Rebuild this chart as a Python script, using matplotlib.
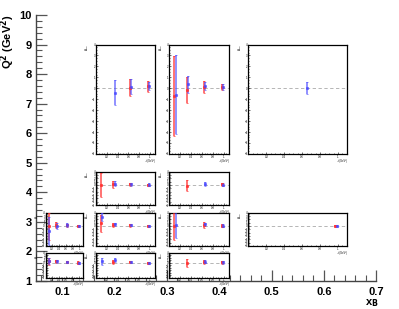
import numpy as np
import matplotlib
matplotlib.use("Agg")
import matplotlib.pyplot as plt
from matplotlib.ticker import MultipleLocator

plt.rcParams['font.family'] = ['Liberation Sans', 'DejaVu Sans']

# main frame values
x_range = (0.05, 0.7)
q2_range = (1, 10)
x_ticks = [0.1, 0.2, 0.3, 0.4, 0.5, 0.6, 0.7]
q2_ticks = [1, 2, 3, 4, 5, 6, 7, 8, 9, 10]

# -t bins used inside every small pad
t_bins = [0.10, 0.33, 0.64, 0.98]
nan = np.nan

# pad boxes in (xB, Q2) of the main frame
col_x = {'x1': (0.0685, 0.139), 'x2': (0.165, 0.278), 'x3': (0.305, 0.419), 'x6': (0.456, 0.644)}
row_q = {'q4': (5.30, 9.00), 'q3': (3.57, 4.70), 'q2': (2.19, 3.31), 'q1': (1.11, 1.96)}

# red / blue asymmetry values and errors per pad (col, row)
red_val = {
    ('x2', 'q4'): [nan, nan, 0.06, 0.2],
    ('x3', 'q4'): [-0.67, -0.15, 0.1, 0.1],
    ('x6', 'q4'): [nan, nan, nan, nan],
    ('x2', 'q3'): [0.0, 0.2, 0.2, 0.05],
    ('x3', 'q3'): [nan, -0.2, nan, 0.15],
    ('x1', 'q2'): [-0.1, 0.3, 0.2, 0.1],
    ('x2', 'q2'): [0.8, 0.2, 0.15, 0.0],
    ('x3', 'q2'): [0.0, nan, 0.3, 0.1],
    ('x6', 'q2'): [nan, nan, nan, 0.0],
    ('x1', 'q1'): [0.5, 0.6, 0.3, 0.0],
    ('x2', 'q1'): [nan, 0.3, 0.1, 0.0],
    ('x3', 'q1'): [nan, -0.2, 0.3, 0.1],
}
red_err = {
    ('x2', 'q4'): [nan, nan, 0.8, 0.5],
    ('x3', 'q4'): [3.66, 1.17, 0.55, 0.3],
    ('x6', 'q4'): [nan, nan, nan, nan],
    ('x2', 'q3'): [3.7, 1.0, 0.5, 0.35],
    ('x3', 'q3'): [nan, 1.65, nan, 0.45],
    ('x1', 'q2'): [4.1, 1.0, 0.5, 0.3],
    ('x2', 'q2'): [2.6, 0.6, 0.35, 0.3],
    ('x3', 'q2'): [4.1, nan, 0.9, 0.4],
    ('x6', 'q2'): [nan, nan, nan, 0.3],
    ('x1', 'q1'): [1.5, 0.6, 0.5, 0.6],
    ('x2', 'q1'): [nan, 0.7, 0.4, 0.35],
    ('x3', 'q1'): [nan, 1.5, 0.7, 0.6],
}
blue_val = {
    ('x2', 'q4'): [nan, -0.4, 0.15, 0.2],
    ('x3', 'q4'): [-0.6, 0.37, 0.2, 0.1],
    ('x6', 'q4'): [nan, nan, 0.03, nan],
    ('x2', 'q3'): [nan, 0.4, 0.15, 0.1],
    ('x3', 'q3'): [nan, nan, 0.2, 0.1],
    ('x1', 'q2'): [-1.45, 0.0, 0.4, 0.1],
    ('x2', 'q2'): [2.7, 0.5, 0.2, 0.0],
    ('x3', 'q2'): [0.2, nan, 0.5, 0.1],
    ('x6', 'q2'): [nan, nan, nan, 0.0],
    ('x1', 'q1'): [0.5, 0.5, 0.3, 0.0],
    ('x2', 'q1'): [0.55, 1.0, 0.1, 0.0],
    ('x3', 'q1'): [nan, nan, 0.3, 0.1],
}
blue_err = {
    ('x2', 'q4'): [nan, 1.15, 0.67, 0.4],
    ('x3', 'q4'): [3.6, 0.76, 0.37, 0.27],
    ('x6', 'q4'): [nan, nan, 0.53, nan],
    ('x2', 'q3'): [nan, 0.8, 0.45, 0.4],
    ('x3', 'q3'): [nan, nan, 0.6, 0.4],
    ('x1', 'q2'): [4.25, 0.8, 0.6, 0.3],
    ('x2', 'q2'): [1.2, 0.5, 0.3, 0.3],
    ('x3', 'q2'): [3.9, nan, 0.5, 0.4],
    ('x6', 'q2'): [nan, nan, nan, 0.3],
    ('x1', 'q1'): [1.2, 0.5, 0.4, 0.4],
    ('x2', 'q1'): [1.5, 0.7, 0.4, 0.35],
    ('x3', 'q1'): [nan, nan, 0.6, 0.5],
}

fig = plt.figure(figsize=(3.99, 3.09), dpi=100)
ax = fig.add_axes([0.090, 0.0906, 0.853, 0.861])
ax.set_xlim(*x_range)
ax.set_ylim(*q2_range)
ax.spines['top'].set_visible(False)
ax.spines['right'].set_visible(False)
for s in ['left', 'bottom']:
    ax.spines[s].set_color('#444444')
    ax.spines[s].set_linewidth(1.0)
ax.set_xticks(x_ticks)
ax.set_xticklabels([f"{v:g}" for v in x_ticks], fontsize=8, fontweight='bold')
ax.set_yticks(q2_ticks)
ax.set_yticklabels([str(v) for v in q2_ticks], fontsize=8, fontweight='bold')
ax.xaxis.set_minor_locator(MultipleLocator(0.02))
ax.yaxis.set_minor_locator(MultipleLocator(0.2))
ax.tick_params(which='major', direction='in', length=8, width=0.9, color='#555555', pad=3)
ax.tick_params(which='minor', direction='in', length=4, width=0.8, color='#555555')
ax.tick_params(axis='x', pad=4.5)
ax.text(-0.082, 1.0, "Q$^\\mathbf{2}$ (GeV$^\\mathbf{2}$)", transform=ax.transAxes,
        rotation=90, ha='center', va='top', fontsize=8, fontweight='bold')
ax.text(0.988, -0.06, "x$_\\mathbf{B}$", transform=ax.transAxes,
        ha='center', va='top', fontsize=8, fontweight='bold')

for (c, r) in red_val:
    x0, x1 = col_x[c]
    y0, y1 = row_q[r]
    p = ax.inset_axes([x0, y0, x1 - x0, y1 - y0], transform=ax.transData)
    p.set_xlim(0, 1.1)
    p.set_ylim(-6, 4)
    p.axhline(0, color='#aaaaaa', lw=0.6, ls=(0, (4, 3)), zorder=1)
    t = np.array(t_bins)
    p.errorbar(t - 0.012, red_val[(c, r)], yerr=red_err[(c, r)], fmt='s', ms=1.2,
               color='#ff3030', alpha=0.8, elinewidth=1.2, capsize=0.8, capthick=0.6, zorder=3)
    p.errorbar(t + 0.012, blue_val[(c, r)], yerr=blue_err[(c, r)], fmt='s', ms=1.2,
               color='#4848ff', alpha=0.7, elinewidth=1.2, capsize=0.8, capthick=0.6, zorder=3)
    for s in p.spines.values():
        s.set_linewidth(0.9)
    p.set_xticks([0.2, 0.4, 0.6, 0.8, 1.0])
    p.set_xticklabels(['0.2', '0.4', '0.6', '0.8', '1'])
    p.set_yticks(range(-6, 5))
    p.xaxis.set_minor_locator(MultipleLocator(0.05))
    p.yaxis.set_minor_locator(MultipleLocator(0.25))
    p.tick_params(which='both', direction='in', labelsize=2.0, pad=0.5, width=0.4)
    p.tick_params(which='major', length=1.6)
    p.tick_params(which='minor', length=0.8)
    p.set_xlabel("-t (GeV²)", fontsize=1.8, loc='right', labelpad=0.0)
    p.set_ylabel("A$_{LU}$", fontsize=2.2, loc='top', labelpad=0.5)

fig.savefig("out.png", dpi=100, facecolor='white')
